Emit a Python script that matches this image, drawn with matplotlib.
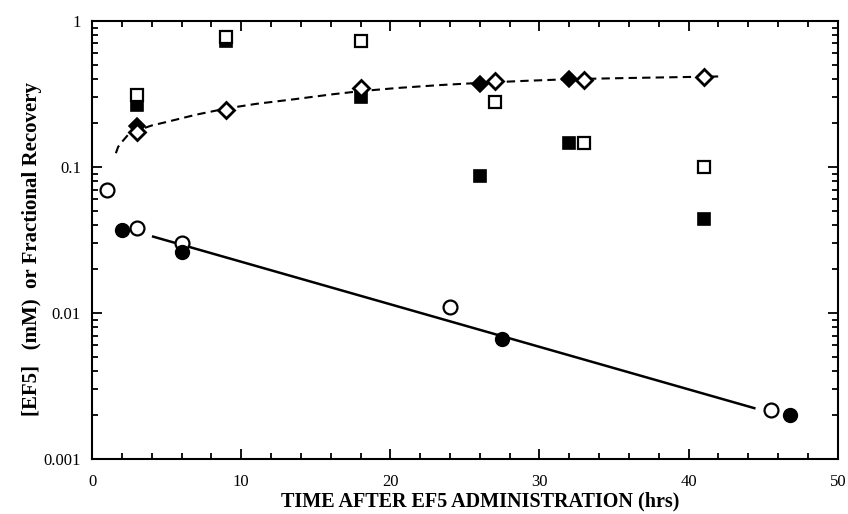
import matplotlib
matplotlib.use("Agg")
import matplotlib.pyplot as plt
from matplotlib.ticker import LogLocator, MultipleLocator, FixedFormatter, FixedLocator

# EF5 concentration (circles)
open_circ_t = [1.0, 3.0, 6.0, 24.0, 45.5]
open_circ_v = [0.070, 0.038, 0.030, 0.011, 0.00215]
fill_circ_t = [2.0, 6.0, 27.5, 46.8]
fill_circ_v = [0.037, 0.026, 0.0066, 0.0020]

# fitted decay line (endpoints)
decay_t = [4.1, 44.4]
decay_v = [0.0333, 0.00223]

# fractional recovery (squares)
open_sq_t = [3.0, 9.0, 18.0, 27.0, 33.0, 41.0]
open_sq_v = [0.31, 0.78, 0.73, 0.28, 0.145, 0.100]
fill_sq_t = [3.0, 9.0, 18.0, 26.0, 32.0, 41.0]
fill_sq_v = [0.265, 0.73, 0.30, 0.087, 0.145, 0.044]

# diamonds
fill_dia_t = [3.0, 26.0, 32.0]
fill_dia_v = [0.19, 0.37, 0.40]
open_dia_t = [3.0, 9.0, 18.0, 27.0, 33.0, 41.0]
open_dia_v = [0.172, 0.245, 0.345, 0.385, 0.395, 0.41]

# dashed saturation curve, read point by point
curve_t = [1.6, 1.75, 2.0, 2.4, 3.0, 4.0, 5.0, 7.0, 9.0, 11.0, 13.5, 16.0, 18.0, 20.5, 23.3, 26.0, 29.0, 32.2, 36.0, 39.0, 42.0]
curve_v = [0.124, 0.137, 0.148, 0.165, 0.177, 0.192, 0.203, 0.228, 0.251, 0.270, 0.290, 0.313, 0.330, 0.347, 0.363, 0.376, 0.388, 0.399, 0.406, 0.411, 0.416]

serif = "Liberation Serif"

fig = plt.figure(figsize=(8.48, 5.14), dpi=100)
ax = fig.add_axes([0.1085, 0.107, 0.8795, 0.8525])

ax.plot(curve_t, curve_v, color="black", lw=1.5, ls=(0, (4, 2.5)), zorder=2)
ax.plot(decay_t, decay_v, color="black", lw=1.8, zorder=2)

ax.plot(fill_sq_t, fill_sq_v, "s", ms=9, mfc="black", mec="black", mew=1.2, zorder=3)
ax.plot(open_sq_t, open_sq_v, "s", ms=9, mfc="white", mec="black", mew=1.6, zorder=4)
ax.plot(fill_dia_t, fill_dia_v, "D", ms=8, mfc="black", mec="black", mew=1.2, zorder=3)
ax.plot(open_dia_t, open_dia_v, "D", ms=8, mfc="white", mec="black", mew=2.0, zorder=4)
ax.plot(open_circ_t, open_circ_v, "o", ms=10, mfc="white", mec="black", mew=1.6, zorder=3)
ax.plot(fill_circ_t, fill_circ_v, "o", ms=10, mfc="black", mec="black", mew=1.0, zorder=4)

ax.set_yscale("log")
ax.set_xlim(0, 50)
ax.set_ylim(0.001, 1)

ax.xaxis.set_major_locator(MultipleLocator(10))
ax.xaxis.set_minor_locator(MultipleLocator(2))
ax.yaxis.set_major_locator(FixedLocator([0.001, 0.01, 0.1, 1]))
ax.yaxis.set_major_formatter(FixedFormatter(["0.001", "0.01", "0.1", "1"]))
ax.yaxis.set_minor_locator(LogLocator(base=10, subs=range(2, 10)))

ax.tick_params(which="both", direction="in", top=True, right=True, width=1.3,
               labelsize=12, pad=8)
ax.tick_params(axis="x", which="major", pad=11)
ax.tick_params(which="major", length=7)
ax.tick_params(which="minor", length=4)
for lab in ax.get_xticklabels() + ax.get_yticklabels():
    lab.set_fontfamily(serif)

for sp in ax.spines.values():
    sp.set_linewidth(1.5)

# axis titles placed to match the reference layout
fig.text(0.566, 0.0253, "TIME AFTER EF5 ADMINISTRATION (hrs)", fontfamily=serif,
         fontweight="bold", fontsize=14.5, ha="center", va="center")
fig.text(0.0377, 0.5156, "[EF5]   (mM)  or Fractional Recovery", fontfamily=serif,
         fontweight="bold", fontsize=15, ha="center", va="center", rotation=90)

fig.savefig("out.png", dpi=100)
